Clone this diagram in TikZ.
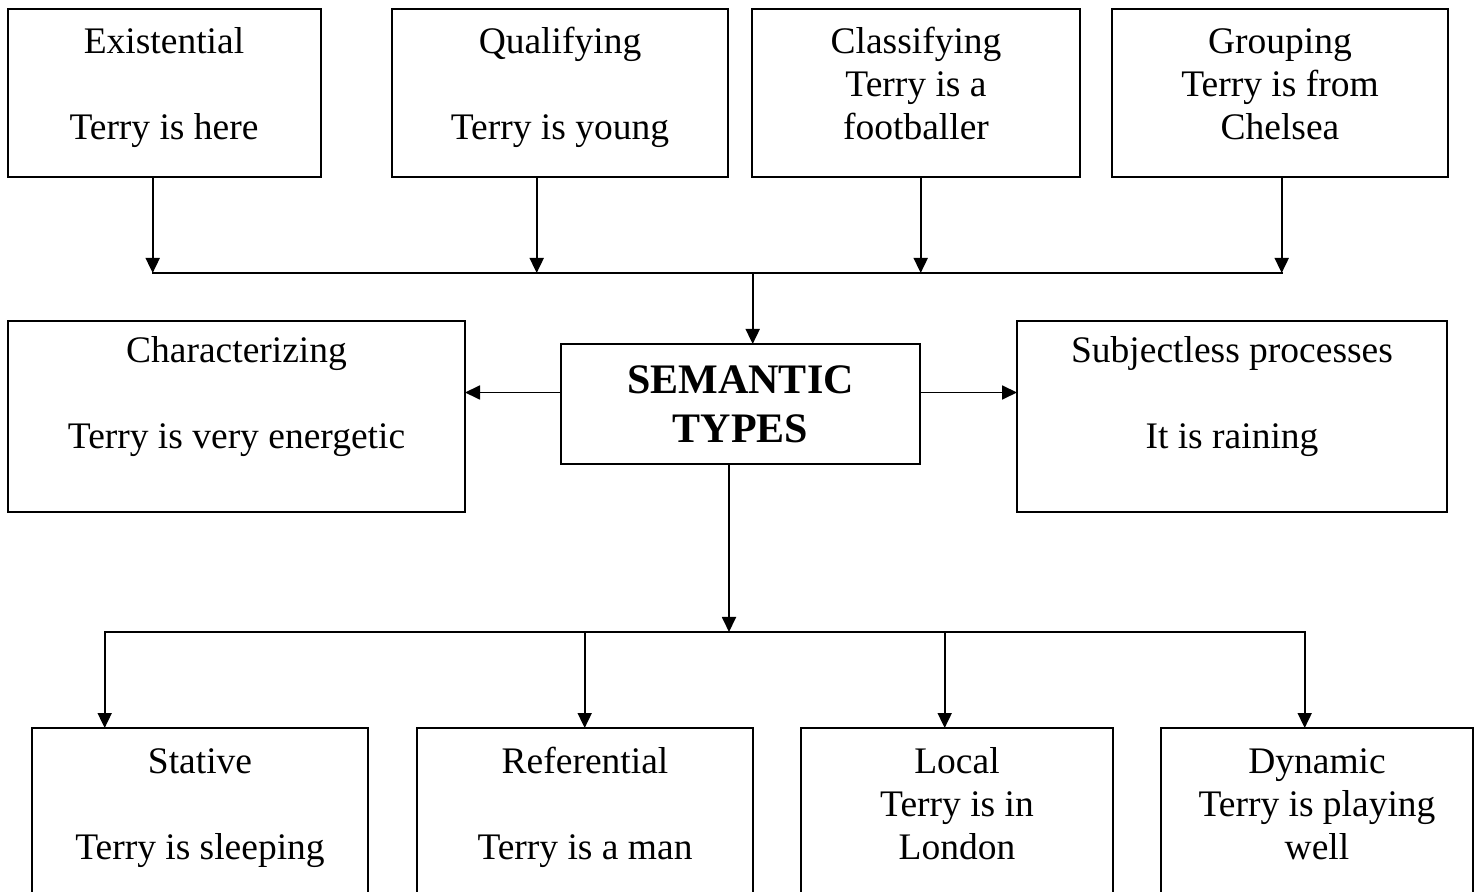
\documentclass[tikz,border=0pt]{standalone}
\usepackage{fontspec}
\setmainfont{Liberation Serif}
\usetikzlibrary{arrows.meta,calc}
\begin{document}
\begin{tikzpicture}[x=0.5pt,y=-0.5pt,
  bx/.style={draw, line width=1pt, inner sep=0pt, outer sep=0pt, rectangle},
  txt/.style={anchor=base, inner sep=0pt, font=\fontsize{18.75}{21.5}\selectfont},
  btxt/.style={anchor=base, inner sep=0pt, font=\fontsize{21}{24.5}\selectfont\bfseries},
  ln/.style={line width=0.9pt, line cap=rect},
  arr/.style={line width=0.9pt, -{Triangle[length=7.5pt,width=7pt]}},
]
\useasboundingbox (0,0) rectangle (1478,892);
\fill[white] (0,0) rectangle (1478,892);
\clip (0,0) rectangle (1478,892);

% top row boxes
\node[bx, minimum width=156.5pt, minimum height=84pt] (ex) at (164,93) {};
\node[bx, minimum width=168pt, minimum height=84pt] (qu) at (560,93) {};
\node[bx, minimum width=164pt, minimum height=84pt] (cl) at (916,93) {};
\node[bx, minimum width=168pt, minimum height=84pt] (gr) at (1280,93) {};

\node[txt] (ext) at (164,54) {\begin{tabular}[t]{@{}c@{}}Existential\\ \\ Terry is here\end{tabular}};
\node[txt] (qut) at (560,54) {\begin{tabular}[t]{@{}c@{}}Qualifying\\ \\ Terry is young\end{tabular}};
\node[txt] (clt) at (916,54) {\begin{tabular}[t]{@{}c@{}}Classifying\\ Terry is a\\ footballer\end{tabular}};
\node[txt] (grt) at (1280,54) {\begin{tabular}[t]{@{}c@{}}Grouping\\ Terry is from\\ Chelsea\end{tabular}};

% middle row
\node[bx, minimum width=228.5pt, minimum height=95.5pt] (ch) at (236.5,416.5) {};
\node[bx, minimum width=179.5pt, minimum height=60pt] (se) at (740.5,404) {};
\node[bx, minimum width=215pt, minimum height=95.5pt] (su) at (1232,416.5) {};

\node[txt] (cht) at (236.5,363) {\begin{tabular}[t]{@{}c@{}}Characterizing\\ \\ Terry is very energetic\end{tabular}};
\node[btxt] (set) at (740.5,394) {\begin{tabular}[t]{@{}c@{}}SEMANTIC\\ TYPES\end{tabular}};
\node[txt] (sut) at (1232,363) {\begin{tabular}[t]{@{}c@{}}Subjectless processes\\ \\ It is raining\end{tabular}};

% bottom row (cut by the page edge)
\node[bx, minimum width=168pt, minimum height=100pt] (st) at (200,828) {};
\node[bx, minimum width=168pt, minimum height=100pt] (re) at (585,828) {};
\node[bx, minimum width=156pt, minimum height=100pt] (lo) at (957,828) {};
\node[bx, minimum width=156pt, minimum height=100pt] (dy) at (1317,828) {};

\node[txt] (stt) at (200,773) {\begin{tabular}[t]{@{}c@{}}Stative\\ \\ Terry is sleeping\end{tabular}};
\node[txt] (ret) at (585,773) {\begin{tabular}[t]{@{}c@{}}Referential\\ \\ Terry is a man\end{tabular}};
\node[txt] (lot) at (957,773) {\begin{tabular}[t]{@{}c@{}}Local\\ Terry is in\\ London\end{tabular}};
\node[txt] (dyt) at (1317,773) {\begin{tabular}[t]{@{}c@{}}Dynamic\\ Terry is playing\\ well\end{tabular}};

% top bus
\coordinate (tb1) at (152.7,273);
\coordinate (tb2) at (536.7,273);
\coordinate (tb3) at (920.7,273);
\coordinate (tb4) at (1281.7,273);
\coordinate (tbm) at (752.7,273);
\draw[ln] (tb1) -- (tb4);
\draw[arr] (ex.south -| tb1) -- (tb1);
\draw[arr] (qu.south -| tb2) -- (tb2);
\draw[arr] (cl.south -| tb3) -- (tb3);
\draw[arr] (gr.south -| tb4) -- (tb4);
\draw[arr] (tbm) -- (tbm |- se.north);

% side arrows
\coordinate (sy) at (0,392.5);
\draw[arr] (se.west |- sy) -- (ch.east |- sy);
\draw[arr] (se.east |- sy) -- (su.west |- sy);

% bottom bus
\coordinate (bm) at (729,632);
\coordinate (bb1) at (104.7,632);
\coordinate (bb2) at (584.7,632);
\coordinate (bb3) at (944.7,632);
\coordinate (bb4) at (1304.7,632);
\draw[arr] (se.south -| bm) -- (bm);
\draw[ln] (bb1) -- (bb4);
\draw[arr] (bb1) -- (bb1 |- st.north);
\draw[arr] (bb2) -- (bb2 |- re.north);
\draw[arr] (bb3) -- (bb3 |- lo.north);
\draw[arr] (bb4) -- (bb4 |- dy.north);
\end{tikzpicture}
\end{document}
